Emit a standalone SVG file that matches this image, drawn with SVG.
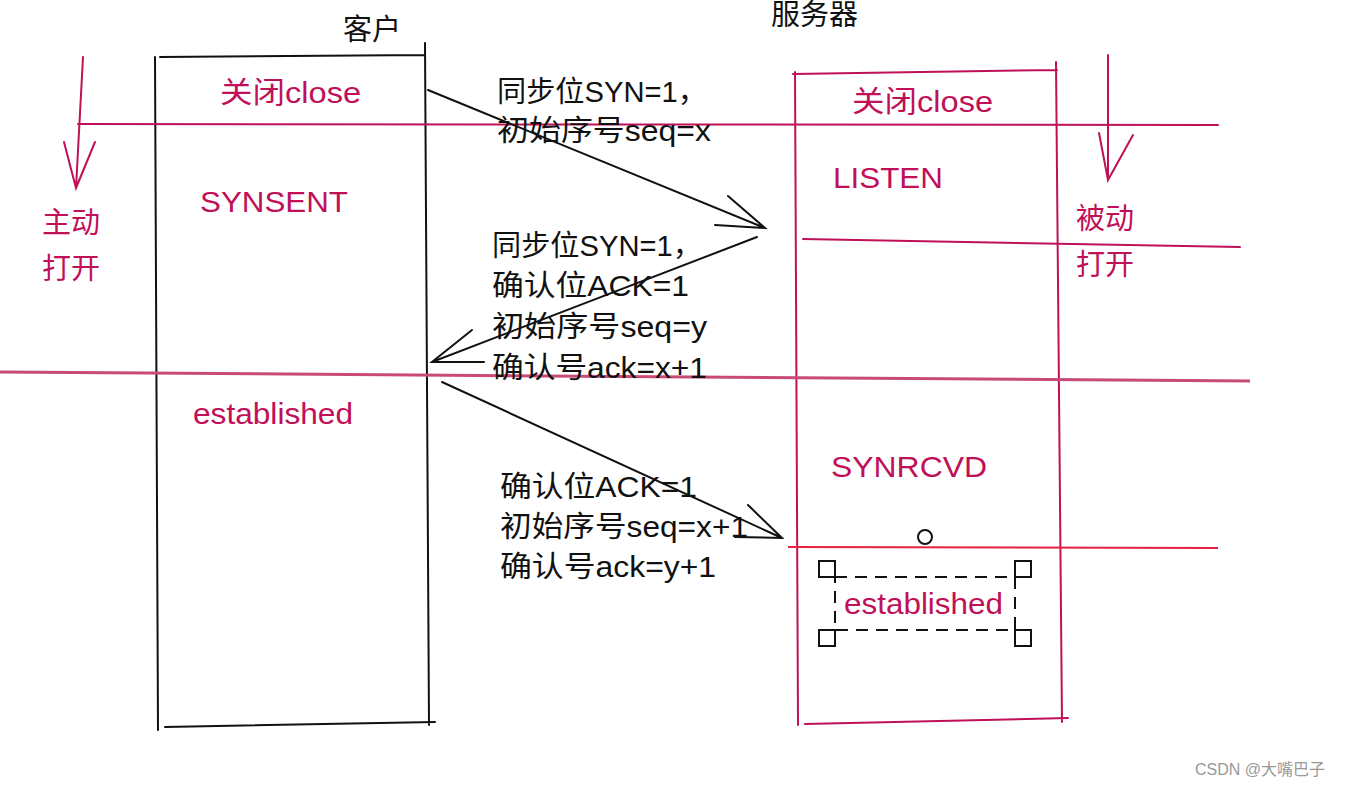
<svg xmlns="http://www.w3.org/2000/svg" width="1346" height="786" viewBox="0 0 1346 786">
<style>
.bk{stroke:#111;stroke-width:2;fill:none;stroke-linecap:round}
.cr{stroke:#bf1058;stroke-width:2;fill:none;stroke-linecap:round}
.t{font-family:"Liberation Sans","Noto Sans CJK SC",sans-serif;font-size:29px}
.tb{fill:#111}
.tc{fill:#bf1058}
</style>
<rect width="1346" height="786" fill="#fff"/>
<g id="client">
<path class="bk" d="M155 57 L158 730 M425 43 L429 725 M160 57 L425 55 M165 727 L435 722"/>
<text class="t tb" x="343" y="40" font-size="30">客户</text>
<text class="t tc" x="220" y="103" textLength="141" lengthAdjust="spacingAndGlyphs">关闭close</text>
<text class="t tc" x="200" y="212" textLength="148" lengthAdjust="spacingAndGlyphs">SYNSENT</text>
<text class="t tc" x="193" y="424" textLength="160" lengthAdjust="spacingAndGlyphs">established</text>
</g>
<g id="server">
<path class="cr" d="M795 72 L798 725 M1056 62 L1062 722 M793 74 L1057 70 M805 724 L1068 718"/>
<text class="t tb" x="771" y="25" font-size="32">服务器</text>
<text class="t tc" x="852" y="112" textLength="141" lengthAdjust="spacingAndGlyphs">关闭close</text>
<text class="t tc" x="833" y="188" textLength="110" lengthAdjust="spacingAndGlyphs">LISTEN</text>
<text class="t tc" x="831" y="477" textLength="156" lengthAdjust="spacingAndGlyphs">SYNRCVD</text>
</g>
<g id="established-selection">
<circle cx="925" cy="537" r="7" fill="none" stroke="#111" stroke-width="2"/>
<rect x="835" y="577" width="180" height="53" fill="none" stroke="#111" stroke-width="2" stroke-dasharray="12 8"/>
<g fill="#fff" stroke="#111" stroke-width="2">
<rect x="819" y="561" width="16" height="16"/>
<rect x="1015" y="561" width="16" height="16"/>
<rect x="819" y="630" width="16" height="16"/>
<rect x="1015" y="630" width="16" height="16"/>
</g>
<text class="t tc" x="844" y="614" textLength="159" lengthAdjust="spacingAndGlyphs">established</text>
</g>
<g id="states">
<path class="cr" d="M78 124 L1218 125"/>
<path class="cr" d="M803 239 L1240 247"/>
<path d="M0 372 L1250 381" stroke="#c94a78" stroke-width="3" fill="none"/>
<path d="M788 547 L1218 548" stroke="#e5223f" stroke-width="2" fill="none"/>
</g>
<g id="active-open">
<path class="cr" d="M83 57 L76 188 M64 142 L76 188 L95 142"/>
<text class="t tc" x="42" y="233" font-size="32">主动</text>
<text class="t tc" x="42" y="279" font-size="32">打开</text>
</g>
<g id="passive-open">
<path class="cr" d="M1108 55 L1108 180 M1099 133 L1108 180 L1133 135"/>
<text class="t tc" x="1076" y="229" font-size="32">被动</text>
<text class="t tc" x="1076" y="275" font-size="32">打开</text>
</g>
<g id="connectors">
<path class="bk" d="M428 90 L765 228 M728 196 L765 228 L715 225"/>
<path class="bk" d="M757 237 L432 362 M472 330 L432 362 L484 362"/>
<path class="bk" d="M442 382 L782 538 M748 505 L782 538 L735 537"/>
</g>
<g id="labels">
<text class="t tb" x="497" y="102" textLength="210" lengthAdjust="spacingAndGlyphs">同步位SYN=1，</text>
<text class="t tb" x="497" y="141" textLength="214" lengthAdjust="spacingAndGlyphs">初始序号seq=x</text>
<text class="t tb" x="492" y="256" textLength="210" lengthAdjust="spacingAndGlyphs">同步位SYN=1，</text>
<text class="t tb" x="492" y="296" textLength="197" lengthAdjust="spacingAndGlyphs">确认位ACK=1</text>
<text class="t tb" x="492" y="337" textLength="215" lengthAdjust="spacingAndGlyphs">初始序号seq=y</text>
<text class="t tb" x="492" y="378" textLength="215" lengthAdjust="spacingAndGlyphs">确认号ack=x+1</text>
<text class="t tb" x="500" y="497" textLength="197" lengthAdjust="spacingAndGlyphs">确认位ACK=1</text>
<text class="t tb" x="500" y="537" textLength="248" lengthAdjust="spacingAndGlyphs">初始序号seq=x+1</text>
<text class="t tb" x="500" y="577" textLength="216" lengthAdjust="spacingAndGlyphs">确认号ack=y+1</text>
</g>
<text x="1195" y="775" font-family="'Liberation Sans','Noto Sans CJK SC',sans-serif" font-size="16" fill="#999">CSDN @大嘴巴子</text>
</svg>
